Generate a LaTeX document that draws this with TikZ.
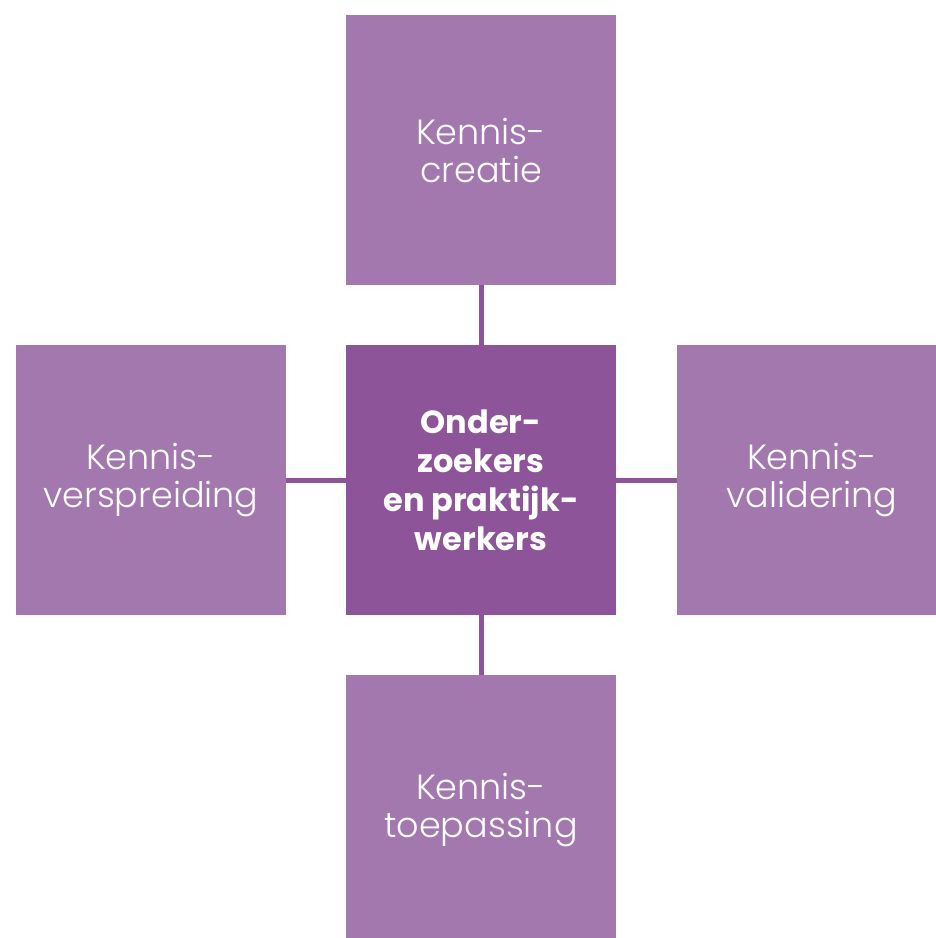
\documentclass[tikz,border=0pt]{standalone}
\usepackage{fontspec}
\newfontfamily\lightfont{Poppins Light}
\newfontfamily\heavyfont{Poppins Bold}
\usepackage{tikz}
\definecolor{paars}{RGB}{162,120,175}
\definecolor{donkerpaars}{RGB}{141,84,153}

\begin{document}
\begin{tikzpicture}[x=1pt, y=-1pt,
        blok/.style={rectangle, fill=paars, minimum size=270pt, inner sep=0pt, text=white, align=center,
            font=\lightfont\fontsize{35}{38}\selectfont},
        kern/.style={blok, fill=donkerpaars, font=\heavyfont\fontsize{32}{39}\selectfont}]
        \useasboundingbox (0,0) rectangle (936,938);
        \clip (0,0) rectangle (936,938);

        % verbindingen onder de blokken
        \node[kern] (ctr) at (481, 480) {Onder-\\zoekers\\en praktijk-\\werkers};
        \node[blok] (crea) at (481, 150) {Kennis-\\creatie};
        \node[blok] (vers) at (151, 480) {Kennis-\\verspreiding};
        \node[blok] (vali) at (812, 480) {Kennis-\\validering};
        \node[blok] (toep) at (481, 810) {Kennis-\\toepassing};

        \draw[donkerpaars, line width=5pt] (ctr) -- (crea);
        \draw[donkerpaars, line width=5pt] (ctr) -- (vers);
        \draw[donkerpaars, line width=5pt] (ctr) -- (vali);
        \draw[donkerpaars, line width=5pt] (ctr) -- (toep);
    \end{tikzpicture}
\end{document}
